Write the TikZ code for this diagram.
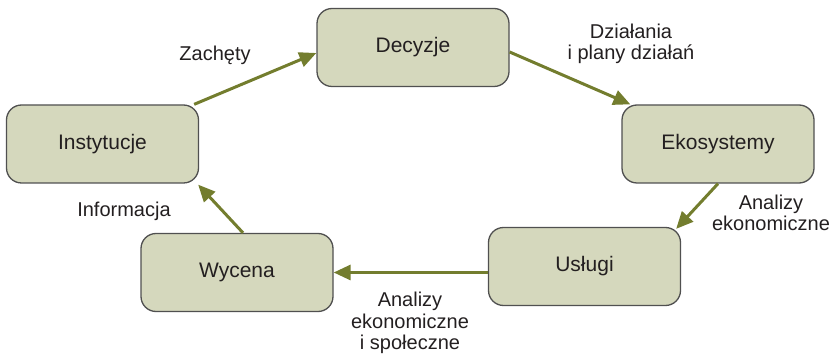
\documentclass[tikz,border=0pt]{standalone}
\usepackage{fontspec}
\setmainfont{Liberation Sans}
\usetikzlibrary{arrows.meta}
\definecolor{boxfill}{HTML}{D5D8BD}
\definecolor{boxdraw}{HTML}{505050}
\definecolor{arrowc}{HTML}{737D2E}
\definecolor{txt}{HTML}{231F20}
\begin{document}
\begin{tikzpicture}[x=1pt,y=-1pt,
  box/.style={draw=boxdraw,line width=1.3pt,fill=boxfill,rounded corners=15pt,
    minimum width=192pt,minimum height=78pt,inner sep=0pt,
    font=\fontsize{21}{23}\selectfont,text=txt},
  lbl/.style={align=center,font=\fontsize{20}{21.5}\selectfont,text=txt,inner sep=0pt},
  conn/.style={draw=arrowc,line width=3pt,-{Triangle[length=17pt,width=15pt]}}]
\useasboundingbox (0,0) rectangle (836,355);
\node[box] (dec) at (413,47.5) {Decyzje};
\node[box] (eko) at (718,144) {Ekosystemy};
\node[box] (usl) at (584.5,266.5) {Usługi};
\node[box] (wyc) at (237,272.5) {Wycena};
\node[box] (inst) at (102.5,144) {Instytucje};
\draw[conn] ([xshift=-5pt]inst.north east) -- ([yshift=-5.5pt]dec.west);
\draw[conn] ([yshift=-4.5pt]dec.east) -- ([xshift=9pt]eko.north west);
\draw[conn] (eko.south) -- ([xshift=-5pt,yshift=-2pt]usl.north east);
\draw[conn] (usl.west |- wyc) -- (wyc.east);
\draw[conn] ([xshift=6pt]wyc.north) -- ([xshift=-1pt,yshift=-1pt]inst.south east);
\node[lbl] (l1) at (215,55) {Zachęty};
\node[lbl] (l2) at (631,44) {Działania\\i plany działań};
\node[lbl] (l3) at (771,213) {Analizy\\ekonomiczne};
\node[lbl] (l4) at (410,323) {Analizy\\ekonomiczne\\i społeczne};
\node[lbl] (l5) at (124,211) {Informacja};
\end{tikzpicture}
\end{document}
